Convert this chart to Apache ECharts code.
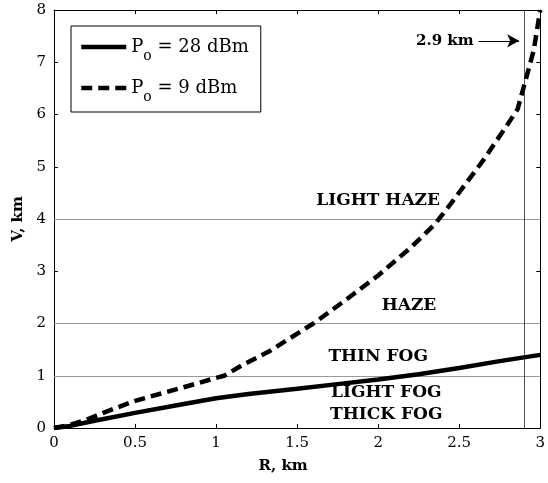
<!DOCTYPE html>
<html>
<head>
<meta charset="utf-8">
<script src="https://cdn.jsdelivr.net/npm/echarts@6/dist/echarts.min.js"></script>
<style>
  html, body { margin: 0; padding: 0; background: #fff; }
  #main { width: 548px; height: 483px; }
</style>
</head>
<body>
<div id="main"></div>
<script>
// P_o = 28 dBm (solid)
var r28 = [0, 0.1, 0.25, 0.5, 0.75, 1.0, 1.2, 1.5, 1.75, 2.0, 2.25, 2.5, 2.75, 3.0];
var v28 = [0, 0.04, 0.14, 0.29, 0.43, 0.57, 0.65, 0.75, 0.84, 0.93, 1.03, 1.15, 1.28, 1.4];
// P_o = 9 dBm (dashed)
var r9 = [0, 0.1, 0.2, 0.32, 0.5, 0.8, 1.0, 1.05, 1.16, 1.34, 1.6, 1.8, 2.0, 2.2, 2.35, 2.45, 2.65, 2.79, 2.86, 2.91, 2.96, 3.0];
var v9 = [0, 0.06, 0.16, 0.31, 0.52, 0.78, 0.96, 1.0, 1.2, 1.49, 2.0, 2.45, 2.92, 3.45, 3.9, 4.3, 5.13, 5.77, 6.1, 6.66, 7.23, 8.0];

// visibility class boundaries and labels
var levels = [1, 2, 4];
var zoneNames = ['LIGHT HAZE', 'HAZE', 'THIN FOG', 'LIGHT FOG', 'THICK FOG'];
var zoneR = [2.0, 2.19, 2.0, 2.05, 2.05];
var zoneV = [4.36, 2.35, 1.36, 0.67, 0.25];
var markR = 2.9;
var arrowR = [2.62, 2.87];
var arrowV = 7.41;

var serif = '"DejaVu Serif", "Liberation Serif", serif';

function pairs(xs, ys) {
    return xs.map(function (x, i) { return [x, ys[i]]; });
}

var chart = echarts.init(document.getElementById('main'));

var boxAxis = {
    axisLine: { show: true, onZero: false, lineStyle: { color: '#000', width: 1 } },
    axisTick: { show: true, inside: true, length: 4, lineStyle: { color: '#000' } },
    splitLine: { show: false }
};

var option = {
    backgroundColor: '#fff',
    animation: false,
    grid: { left: 54, right: 4, top: 10, bottom: 55 },
    legend: {
        data: ['28', '9'],
        orient: 'vertical',
        left: 71,
        top: 26,
        padding: [12, 12, 8, 8],
        itemGap: 16,
        itemWidth: 45,
        itemHeight: 14,
        borderColor: '#000',
        borderWidth: 1,
        backgroundColor: '#fff',
        itemStyle: { opacity: 0 },
        lineStyle: { width: 4.5 },
        formatter: function (name) {
            return '{p|P}{s|o}{p| = ' + name + ' dBm}';
        },
        textStyle: {
            rich: {
                p: { fontFamily: serif, fontSize: 18, color: '#000' },
                s: { fontFamily: serif, fontSize: 14, color: '#000', padding: [18, 0, 0, 0] }
            }
        }
    },
    xAxis: [
        Object.assign({
            type: 'value', min: 0, max: 3, interval: 0.5,
            name: 'R, km', nameLocation: 'middle', nameGap: 31,
            nameTextStyle: { fontFamily: serif, fontSize: 15, fontWeight: 'bold', color: '#000', padding: [0, 28, 0, 0] },
            axisLabel: { fontFamily: serif, fontSize: 15, color: '#000', margin: 8 }
        }, boxAxis),
        Object.assign({
            type: 'value', min: 0, max: 3, interval: 0.5, position: 'top',
            axisLabel: { show: false }
        }, boxAxis)
    ],
    yAxis: [
        Object.assign({
            type: 'value', min: 0, max: 8, interval: 1,
            name: 'V, km', nameLocation: 'middle', nameGap: 23,
            nameTextStyle: { fontFamily: serif, fontSize: 15, fontWeight: 'bold', color: '#000' },
            axisLabel: { fontFamily: serif, fontSize: 15, color: '#000', margin: 8 }
        }, boxAxis),
        Object.assign({
            type: 'value', min: 0, max: 8, interval: 1, position: 'right',
            axisLabel: { show: false }
        }, boxAxis)
    ],
    series: [
        {
            name: '28',
            type: 'line',
            data: pairs(r28, v28),
            showSymbol: false,
            symbol: 'none',
            lineStyle: { color: '#000', width: 4.5 },
            itemStyle: { color: '#000' },
            z: 5
        },
        {
            name: '9',
            type: 'line',
            data: pairs(r9, v9),
            showSymbol: false,
            symbol: 'none',
            lineStyle: { color: '#000', width: 4.5, type: [11, 6] },
            itemStyle: { color: '#000' },
            z: 5,
            markLine: {
                silent: true,
                symbol: 'none',
                label: { show: false },
                lineStyle: { color: '#999', width: 1, type: 'solid' },
                data: levels.map(function (v) { return { yAxis: v }; })
                    .concat([{ xAxis: markR, lineStyle: { color: '#555', width: 1 } }])
            }
        },
        {
            name: 'arrow',
            type: 'line',
            data: [],
            markLine: {
                silent: true,
                symbol: ['none', 'arrow'],
                symbolSize: [10, 12],
                lineStyle: { color: '#000', width: 1.2, type: 'solid' },
                label: {
                    show: true, position: 'start', distance: 5,
                    formatter: markR + ' km',
                    fontFamily: serif, fontSize: 15, fontWeight: 'bold', color: '#000'
                },
                data: [[{ coord: [arrowR[0], arrowV] }, { coord: [arrowR[1], arrowV] }]]
            }
        },
        {
            name: 'zones',
            type: 'scatter',
            data: zoneNames.map(function (n, i) { return [zoneR[i], zoneV[i], n]; }),
            symbolSize: 0,
            itemStyle: { color: '#000', opacity: 1 },
            label: {
                show: true,
                position: 'inside',
                formatter: function (p) { return p.value[2]; },
                fontFamily: serif, fontSize: 17, fontWeight: 'bold', color: '#000',
                textBorderWidth: 0
            },
            z: 6
        }
    ]
};

chart.setOption(option);
</script>
</body>
</html>
